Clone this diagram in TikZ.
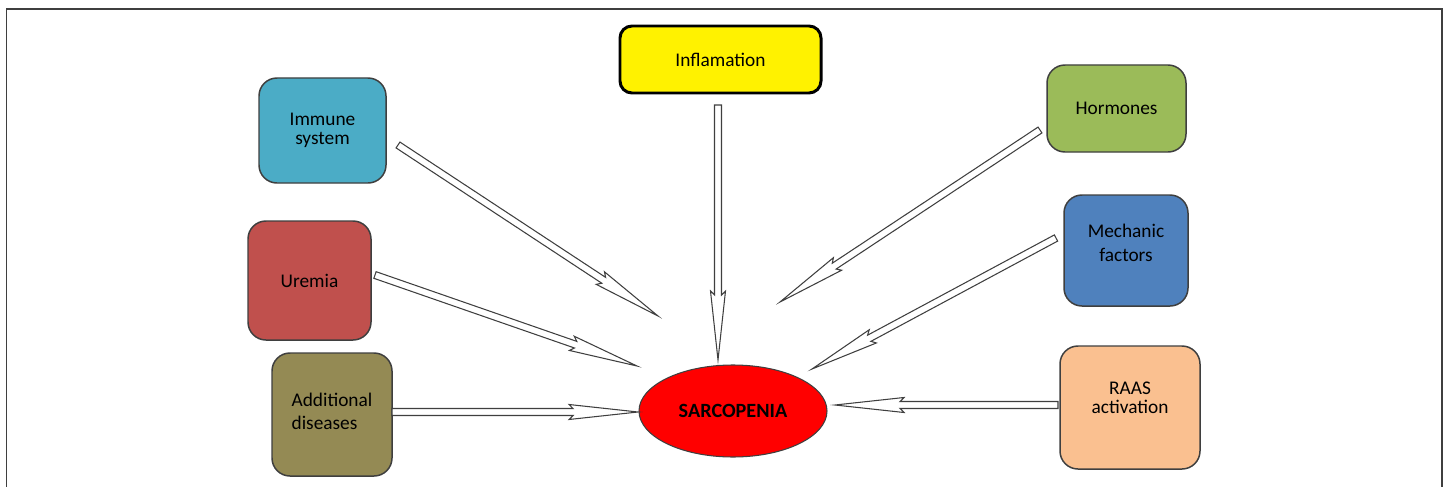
\documentclass[tikz,border=0pt]{standalone}
\usepackage{fontspec}
\setmainfont{Carlito}
\usetikzlibrary{calc,shapes.geometric}

\definecolor{immunecol}{HTML}{4BACC6}
\definecolor{hormonecol}{HTML}{9BBB59}
\definecolor{uremiacol}{HTML}{C0504D}
\definecolor{mechaniccol}{HTML}{4F81BD}
\definecolor{diseasecol}{HTML}{948A54}
\definecolor{raascol}{HTML}{FAC090}
\definecolor{edgecol}{HTML}{3F3F3F}

\tikzset{
	factor/.style={draw=edgecol, line width=0.85pt, rounded corners=3.6mm, align=center, inner sep=0pt, font=\fontsize{11}{13}\selectfont},
	txt/.style={align=center, inner sep=0pt, font=\fontsize{11}{13}\selectfont},
	harrow/.style={draw=edgecol, line width=0.6pt, fill=white, line join=miter},
}

\begin{document}
\begin{tikzpicture}[x=0.2mm, y=-0.2mm]
	\useasboundingbox (0,0) rectangle (1446,487);
	%Hollow block arrow from #1 to #2%
	%===========================================================
	\def\hollowarrow#1#2{%
		\draw[harrow] let \p1=($(#2)-(#1)$), \n1={atan2(\y1,\x1)} in
		($(#1)+(\n1+90:0.7mm)$)
		-- ($(#2)+(\n1:-13mm)+(\n1+90:0.7mm)$)
		-- ($(#2)+(\n1:-13.8mm)+(\n1+90:1.5mm)$)
		-- (#2)
		-- ($(#2)+(\n1:-13.8mm)+(\n1-90:1.5mm)$)
		-- ($(#2)+(\n1:-13mm)+(\n1-90:0.7mm)$)
		-- ($(#1)+(\n1-90:0.7mm)$) -- cycle;}
	
	%Frame%
	\draw[edgecol, line width=0.9pt] (6.5,487) -- (6.5,9) -- (1442,9) -- (1442,487);
	
	%Factors%
	%===========================================================
	\node[factor, fill=yellow, draw=black, line width=1.7pt, rounded corners=2.4mm, minimum width=40.2mm, minimum height=13.4mm] (inflam) at (720.5,59.5) {Inflamation};
	\node[factor, fill=immunecol, minimum width=25.4mm, minimum height=21mm] (immune) at (322.5,130.5) {Immune\\[-2pt]system};
	\node[factor, fill=hormonecol, minimum width=27.8mm, minimum height=17.4mm] (hormones) at (1116.5,108.5) {Hormones};
	\node[factor, fill=uremiacol, minimum width=24.6mm, minimum height=23.8mm] (uremia) at (309.5,280.5) {Uremia};
	\node[factor, fill=mechaniccol, minimum width=24.8mm, minimum height=22.2mm,
		label={[txt, yshift=1.5mm]center:Mechanic\\[1pt]factors}] (mechanic) at (1126,250.5) {};
	\node[factor, fill=diseasecol, minimum width=24mm, minimum height=24.6mm,
		label={[txt, align=left, yshift=0.7mm]center:Additional\\diseases}] (diseases) at (332,414.5) {};
	\node[factor, fill=raascol, minimum width=28mm, minimum height=24.6mm,
		label={[txt, yshift=2mm]center:RAAS\\[-2pt]activation}] (raas) at (1130,407.5) {};
	
	%Sarcopenia%
	\node[ellipse, draw=edgecol, line width=0.6pt, fill=red, minimum width=37.6mm, minimum height=18.4mm, inner sep=0pt, font=\fontsize{11.5}{13}\selectfont\bfseries] (sarc) at (733,411) {SARCOPENIA};
	
	%Arrow ends%
	%===========================================================
	\coordinate (immune-out) at (398,145);
	\coordinate (immune-in) at (658,316);
	\coordinate (inflam-out) at (718,105);
	\coordinate (inflam-in) at (718,360);
	\coordinate (hormones-out) at (1040,130);
	\coordinate (hormones-in) at (780,302);
	\coordinate (uremia-out) at (375,275);
	\coordinate (uremia-in) at (637,366);
	\coordinate (mechanic-out) at (1056,238);
	\coordinate (mechanic-in) at (812,369);
	\coordinate (diseases-out) at (392,412);
	\coordinate (diseases-in) at (638,412);
	\coordinate (raas-out) at (1058,405);
	\coordinate (raas-in) at (835,405);
	
	\hollowarrow{immune-out}{immune-in} %Immune system
	\hollowarrow{inflam-out}{inflam-in} %Inflamation
	\hollowarrow{hormones-out}{hormones-in} %Hormones
	\hollowarrow{uremia-out}{uremia-in} %Uremia
	\hollowarrow{mechanic-out}{mechanic-in} %Mechanic factors
	\hollowarrow{diseases-out}{diseases-in} %Additional diseases
	\hollowarrow{raas-out}{raas-in} %RAAS
\end{tikzpicture}
\end{document}
